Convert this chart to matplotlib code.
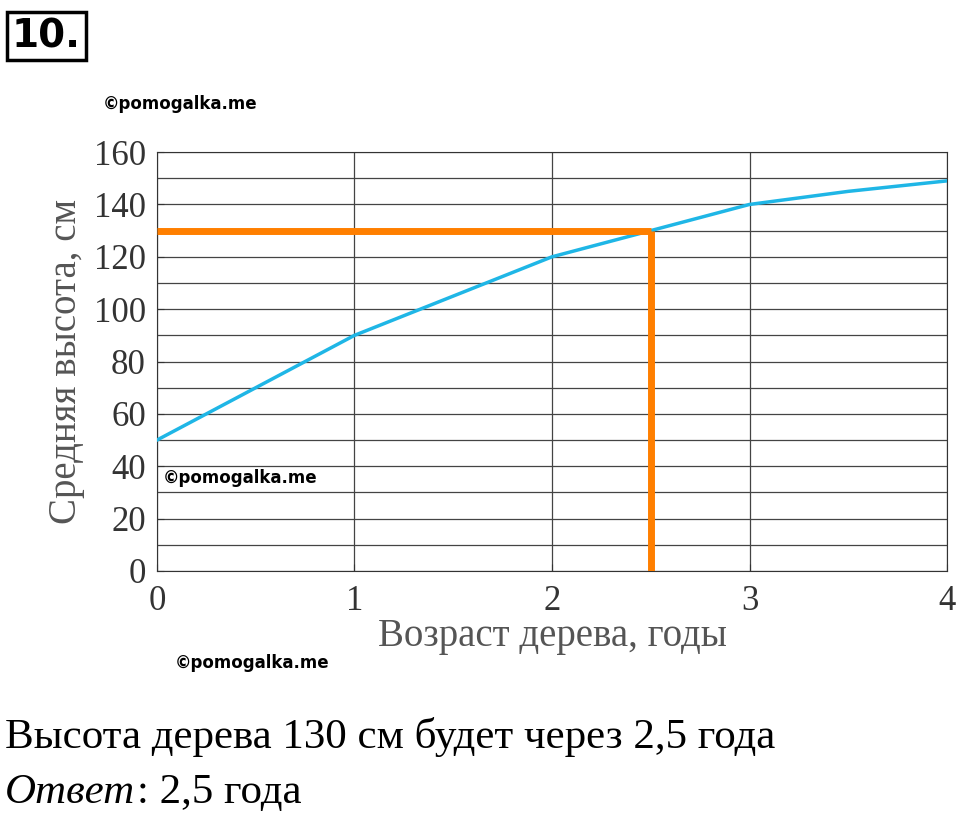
import matplotlib
matplotlib.use("Agg")
import matplotlib.pyplot as plt

ages = [0, 0.5, 1, 1.5, 2, 2.5, 3, 3.5, 4]
heights = [50, 70, 90, 105, 120, 130, 140, 145, 149]
target_age = 2.5
target_height = 130
xticks = [0, 1, 2, 3, 4]
yticks = [0, 20, 40, 60, 80, 100, 120, 140, 160]

fig = plt.figure(figsize=(9.6, 8.15), dpi=100)
ax = fig.add_axes([0.1635, 0.2994, 0.823, 0.514])
ax.set_xlim(0, 4)
ax.set_ylim(0, 160)
ax.set_xticks(xticks)
ax.set_yticks(yticks)
ax.set_yticks(range(10, 160, 20), minor=True)
ax.tick_params(axis='y', which='minor', length=0)
ax.grid(True, which='major', color='#444444', lw=0.9)
ax.grid(True, which='minor', axis='y', color='#444444', lw=0.9)
for s in ax.spines.values():
    s.set_color('#333333')
ax.tick_params(labelsize=25, colors='#333333', length=5, direction='in')
ax.tick_params(axis='x', pad=10)
ax.tick_params(axis='y', pad=8)
for lab in ax.get_xticklabels() + ax.get_yticklabels():
    lab.set_family('Liberation Serif')
ax.set_xlabel('Возраст дерева, годы', fontsize=28, family='Liberation Serif', color='#555555', labelpad=0)
ax.set_ylabel('Средняя высота, см', fontsize=28, family='Liberation Serif', color='#555555', labelpad=6)

ax.plot(ages, heights, color='#1fb6e6', lw=2.5, zorder=3)
ax.plot([0, target_age], [target_height, target_height], color='#ff7f00', lw=5, zorder=4, solid_capstyle='butt')
ax.plot([target_age, target_age], [0, target_height], color='#ff7f00', lw=5, zorder=4, solid_capstyle='butt')

fig.text(12/960, 1-36/815, '10.', fontsize=28, fontweight='bold', va='center', ha='left',
         bbox=dict(boxstyle='square,pad=0.12', fc='white', ec='black', lw=2.5))
fig.text(103/960, 1-104/815, '©pomogalka.me', fontsize=12, fontweight='bold', va='center')
fig.text(163/960, 1-478/815, '©pomogalka.me', fontsize=12, fontweight='bold', va='center')
fig.text(175/960, 1-663/815, '©pomogalka.me', fontsize=12, fontweight='bold', va='center')
fig.text(5/960, 1-737/815, 'Высота дерева 130 см будет через 2,5 года', fontsize=31,
         family='Liberation Serif', va='center')
t = fig.text(5/960, 1-793/815, 'Ответ', fontsize=31, family='Liberation Serif', style='italic', va='center')
fig.canvas.draw()
bb = t.get_window_extent()
fig.text(bb.x1/960 + 0.002, 1-793/815, ': 2,5 года', fontsize=31, family='Liberation Serif', va='center')
fig.savefig('out.png', dpi=100)
